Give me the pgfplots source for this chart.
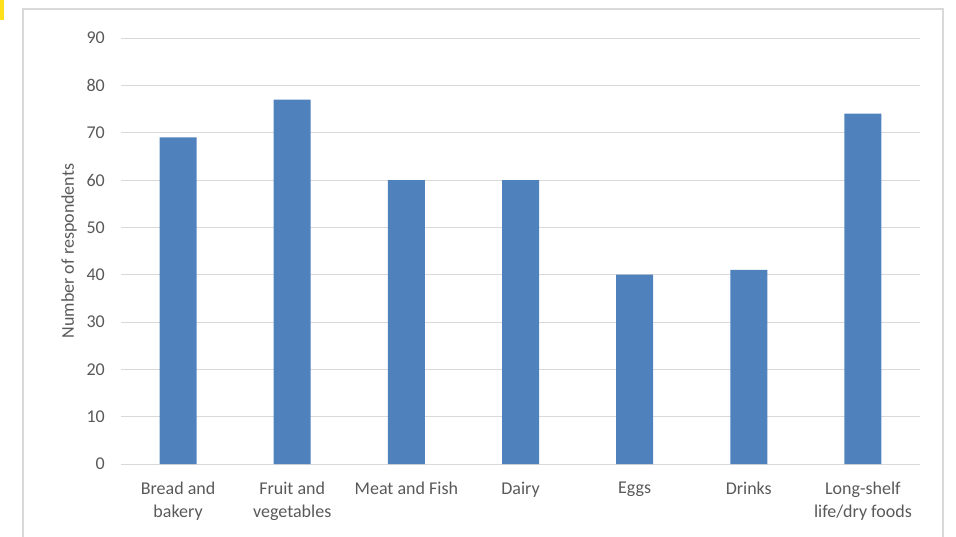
\documentclass[border=0pt]{standalone}
\usepackage{pgfplots}
\pgfplotsset{compat=1.18}
\usepackage{fontspec}
\setmainfont{Carlito}
\definecolor{barblue}{HTML}{4F81BD}
\definecolor{gridgray}{HTML}{D9D9D9}
\definecolor{txtgray}{HTML}{595959}
\definecolor{markyellow}{HTML}{FFE01A}
\begin{document}
\begin{tikzpicture}[x=1pt,y=1pt]
\useasboundingbox (0,0) rectangle (956,536);
\fill[markyellow] (0,516) rectangle (3.5,536);
\draw[gridgray, line width=1.6pt] (23,-5) rectangle (943,527);
\begin{axis}[
  at={(121pt,72pt)}, anchor=south west,
  scale only axis, width=799pt, height=426pt,
  xmin=-0.5, xmax=6.5, ymin=0, ymax=90,
  ytick={0,10,...,90},
  xtick={0,...,6},
  xticklabels={{Bread and\\bakery},{Fruit and\\vegetables},{Meat and Fish},{Dairy},{Eggs},{Drinks},{Long-shelf\\life/dry foods}},
  axis line style={draw=none},
  major tick length=0pt,
  ymajorgrids,
  grid style={gridgray, line width=1pt},
  /pgf/number format/assume math mode=true,
  yticklabel style={anchor=east, inner sep=0pt, xshift=-16pt, text=txtgray, font=\fontsize{18}{22}\selectfont},
  xticklabel style={anchor=north, inner sep=0pt, yshift=-18pt, align=center, text=txtgray, font=\fontsize{18}{23}\selectfont},
  ylabel={Number of respondents},
  every axis y label/.style={at={(axis description cs:0,0.5)}, xshift=-52pt, rotate=90, anchor=center, text=txtgray, font=\fontsize{18}{22}\selectfont},
  ybar, bar width=37pt,
]
\addplot[fill=barblue, draw=none] coordinates {(0,69) (1,77) (2,60) (3,60) (4,40) (5,41) (6,74)};
\end{axis}
\end{tikzpicture}
\end{document}
